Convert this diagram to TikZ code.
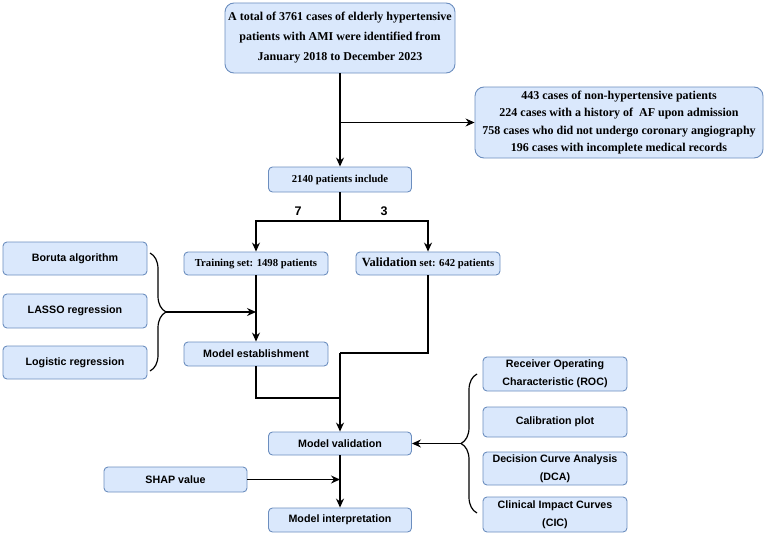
\documentclass[tikz,border=0pt]{standalone}
\usepackage{fontspec}
\setmainfont{Liberation Serif}
\setsansfont{Liberation Sans}
\usetikzlibrary{positioning,arrows.meta,calc,decorations.pathreplacing}
\definecolor{boxfill}{HTML}{DAE8FC}
\definecolor{boxline}{HTML}{6C8EBF}
\tikzset{
  >={Stealth[length=9pt,width=8pt,inset=3pt]},
  procbox/.style={draw=boxline,fill=boxfill,rounded corners=4pt,line width=0.9pt,
    minimum width=144pt,inner sep=2pt,align=center,
    font=\sffamily\bfseries\fontsize{10.7}{18}\selectfont},
  serifbox/.style={procbox,font=\rmfamily\bfseries\fontsize{10.7}{12}\selectfont},
  bigbox/.style={procbox,rounded corners=9pt,
    font=\rmfamily\bfseries\fontsize{12}{20}\selectfont},
  flow/.style={->,line width=1.2pt},
  link/.style={line width=1.2pt},
  bracelink/.style={line width=1.2pt,line join=round,decorate,
    decoration={brace,amplitude=16pt,aspect=0.5}},
  splitlbl/.style={font=\sffamily\bfseries\fontsize{12.5}{13}\selectfont},
}
\begin{document}
\begin{tikzpicture}[x=1pt,y=-1pt]
  \useasboundingbox (0,0) rectangle (767,535);
  % flow chart
  \node[bigbox,minimum width=230pt,minimum height=70pt] (total) at (340,38)
    {A total of 3761 cases of elderly hypertensive\\
     patients with AMI were identified from\\
     January 2018 to December 2023};
  \node[bigbox,minimum width=288pt,minimum height=71pt,
    font=\rmfamily\bfseries\fontsize{12}{17.3}\selectfont] (excl) at (619,122.5)
    {443 cases of non-hypertensive patients\\
     224 cases with a history of \ AF upon admission\\
     758 cases who did not undergo coronary angiography\\
     196 cases with incomplete medical records};
  \node[serifbox,minimum width=143pt,minimum height=25pt] (incl) at (340,179.5)
    {2140 patients include};
  \node[serifbox,minimum height=23pt] (train) at (256,263.5)
    {Training set: 1498 patients};
  \node[serifbox,minimum height=23pt] (valid) at (428,263.5)
    {{\fontsize{12.5}{12}\selectfont Validation} set: 642 patients};
  % feature selection
  \node[procbox,minimum height=33pt] (boruta) at (75,258.5) {Boruta algorithm};
  \node[procbox,minimum height=34pt] (lasso) at (75,311) {LASSO regression};
  \node[procbox,minimum height=33pt] (logit) at (75,362.5) {Logistic regression};
  \node[procbox,minimum height=24pt] (estab) at (256,354) {Model establishment};
  % validation and interpretation
  \node[procbox,minimum width=143pt,minimum height=23pt] (mval) at (340,443.5)
    {Model validation};
  \node[procbox,minimum width=143pt,minimum height=25pt] (shap) at (175.5,479.5)
    {SHAP value};
  \node[procbox,minimum width=143pt,minimum height=24pt] (minterp) at (340,520)
    {Model interpretation};
  \node[procbox,minimum height=34pt] (roc) at (555,374)
    {Receiver Operating\\Characteristic (ROC)};
  \node[procbox,minimum height=30pt] (calib) at (555,422) {Calibration plot};
  \node[procbox,minimum height=33pt] (dca) at (555,468.5)
    {Decision Curve Analysis\\(DCA)};
  \node[procbox,minimum height=35pt] (cic) at (555,514.5)
    {Clinical Impact Curves\\(CIC)};
  % junction points
  \coordinate (exclj) at (total.south |- excl.west);
  \coordinate (split) at (340,221);
  \coordinate (estabj) at (340,398);
  \coordinate (validj) at (340,353);
  \coordinate (lbtop) at (150,253);
  \coordinate (lbbot) at (150,371);
  \coordinate (lbtip) at (166,312);
  \coordinate (rbtop) at (477,374);
  \coordinate (rbbot) at (477,513);
  \coordinate (rbtip) at (461,443.5);
  % connectors
  \draw[flow] (total.south) -- (incl.north);
  \draw[flow] (exclj) -- (excl.west);
  \draw[link] (incl.south) -- (split);
  \draw[flow] (split) -| (train.north);
  \draw[flow] (split) -| (valid.north);
  \node[splitlbl] (seven) at (298,211) {7};
  \node[splitlbl] (three) at (384,211) {3};
  \draw[flow] (train.south) -- (estab.north);
  \draw[bracelink] (lbtop) -- (lbbot);
  \draw[flow] (lbtip) -- (train.south |- lbtip);
  \draw[link] (estab.south) |- (estabj);
  \draw[link] (valid.south) |- (validj);
  \draw[flow] (validj) -- (mval.north);
  \draw[bracelink] (rbbot) -- (rbtop);
  \draw[flow] (rbtip) -- (mval.east);
  \draw[flow] (shap.east) -- (mval.south |- shap.east);
  \draw[flow] (mval.south) -- (minterp.north);
\end{tikzpicture}
\end{document}
